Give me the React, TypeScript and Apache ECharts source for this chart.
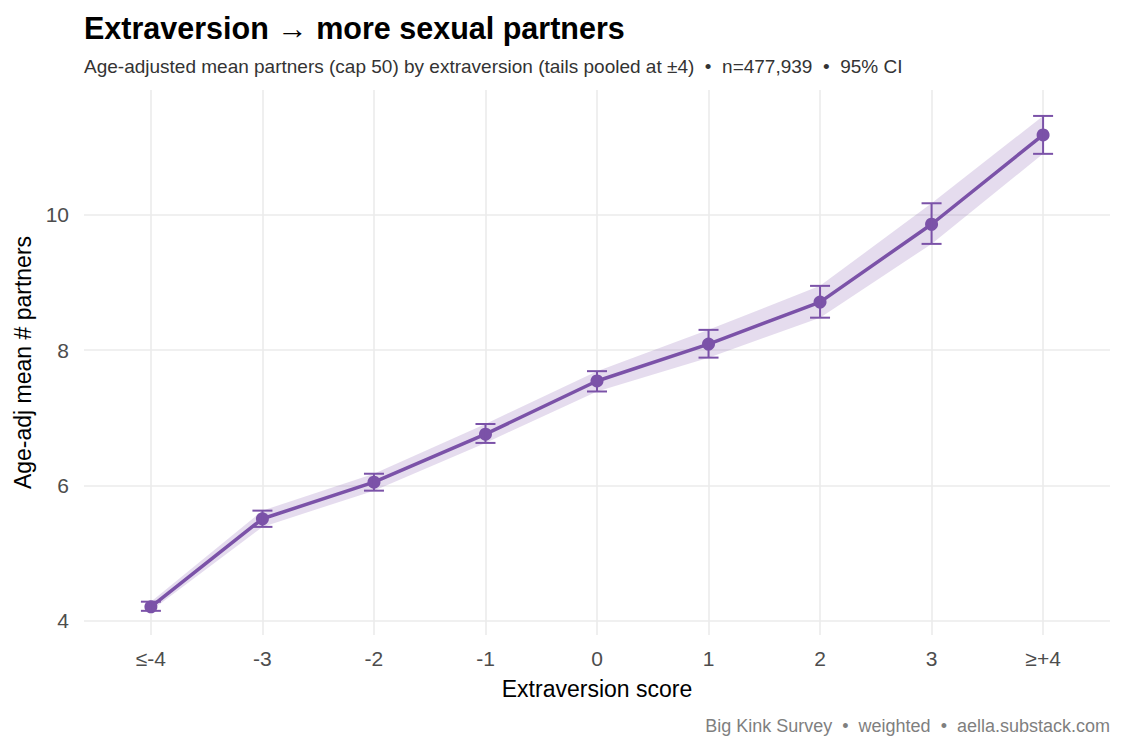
import React, { useEffect, useRef } from "react";
import * as echarts from "echarts";

// Extraversion score buckets (tails pooled at ±4)
const categories = ["≤-4", "-3", "-2", "-1", "0", "1", "2", "3", "≥+4"];
// Age-adjusted mean number of partners per bucket
const means = [4.21, 5.51, 6.05, 6.76, 7.545, 8.09, 8.71, 9.86, 11.18];
// 95% confidence interval bounds
const lower = [4.15, 5.39, 5.925, 6.63, 7.39, 7.89, 8.48, 9.57, 10.9];
const upper = [4.285, 5.63, 6.175, 6.91, 7.69, 8.3, 8.95, 10.17, 11.46];
const yTicks = [4, 6, 8, 10];

const PURPLE = "#7b52a8";
const FONT = "Liberation Sans, Arial, sans-serif";

export default function App() {
  const ref = useRef<HTMLDivElement>(null);

  useEffect(() => {
    if (!ref.current) return;
    const chart = echarts.init(ref.current, undefined, { renderer: "svg" });
    const xIdx = categories.map((_, i) => i);
    const rows = categories.map((_, i) => [i, means[i], lower[i], upper[i]]);

    chart.setOption({
      animation: false,
      backgroundColor: "#ffffff",
      textStyle: { fontFamily: FONT },
      title: [
        {
          text: "Extraversion → more sexual partners",
          left: 84,
          top: 12,
          padding: 0,
          textStyle: { fontFamily: FONT, fontSize: 30.5, fontWeight: "bold", color: "#000000" },
        },
        {
          text: "Age-adjusted mean partners (cap 50) by extraversion (tails pooled at ±4)  •  n=477,939  •  95% CI",
          left: 84,
          top: 57,
          padding: 0,
          textStyle: { fontFamily: FONT, fontSize: 19, fontWeight: "normal", color: "#333333" },
        },
        {
          text: "Big Kink Survey  •  weighted  •  aella.substack.com",
          right: 15,
          top: 717,
          padding: 0,
          textStyle: { fontFamily: FONT, fontSize: 18, fontWeight: "normal", color: "#7f7f7f" },
        },
      ],
      grid: { left: 84, right: 15, top: 90, bottom: 115 },
      xAxis: {
        type: "value",
        min: -0.6,
        max: 8.6,
        name: "Extraversion score",
        nameLocation: "middle",
        nameGap: 42,
        nameTextStyle: { fontFamily: FONT, fontSize: 23, color: "#000000" },
        axisLine: { show: false },
        axisTick: { show: false, customValues: xIdx },
        axisLabel: {
          customValues: xIdx,
          formatter: (v: number) => categories[Math.round(v)] ?? "",
          fontFamily: FONT,
          fontSize: 21,
          color: "#4d4d4d",
          margin: 13,
        },
        splitLine: { show: true, lineStyle: { color: "#ebebeb", width: 1.6 } },
      },
      yAxis: {
        type: "value",
        min: 3.793,
        max: 11.843,
        name: "Age-adj mean # partners",
        nameLocation: "middle",
        nameGap: 41,
        nameRotate: 90,
        nameTextStyle: { fontFamily: FONT, fontSize: 23, color: "#000000" },
        axisLine: { show: false },
        axisTick: { show: false, customValues: yTicks },
        axisLabel: {
          customValues: yTicks,
          fontFamily: FONT,
          fontSize: 21,
          color: "#4d4d4d",
          margin: 15,
        },
        splitLine: { show: true, lineStyle: { color: "#ebebeb", width: 1.6 } },
      },
      series: [
        {
          // confidence ribbon drawn as a single polygon
          type: "custom",
          data: rows,
          z: 1,
          silent: true,
          renderItem: (params: any, api: any) => {
            if (params.dataIndex !== 0) return null;
            const top = rows.map((r) => api.coord([r[0], r[3]]));
            const bot = rows.map((r) => api.coord([r[0], r[2]])).reverse();
            return {
              type: "polygon",
              shape: { points: top.concat(bot) },
              style: { fill: PURPLE, opacity: 0.2 },
            };
          },
        },
        {
          type: "line",
          data: rows.map((r) => [r[0], r[1]]),
          z: 3,
          symbol: "circle",
          symbolSize: 13,
          lineStyle: { color: PURPLE, width: 3.5 },
          itemStyle: { color: PURPLE },
        },
        {
          // error bars with caps
          type: "custom",
          data: rows,
          z: 4,
          silent: true,
          renderItem: (_params: any, api: any) => {
            const x = api.value(0);
            const lo = api.coord([x, api.value(2)]);
            const hi = api.coord([x, api.value(3)]);
            const half = 10;
            const style = { stroke: PURPLE, lineWidth: 2 };
            return {
              type: "group",
              children: [
                { type: "line", shape: { x1: lo[0], y1: lo[1], x2: hi[0], y2: hi[1] }, style },
                { type: "line", shape: { x1: lo[0] - half, y1: lo[1], x2: lo[0] + half, y2: lo[1] }, style },
                { type: "line", shape: { x1: hi[0] - half, y1: hi[1], x2: hi[0] + half, y2: hi[1] }, style },
              ],
            };
          },
        },
      ],
    });

    return () => chart.dispose();
  }, []);

  return (
    <div
      ref={ref}
      style={{ position: "fixed", left: 0, top: 0, width: 1125, height: 750, background: "#ffffff" }}
    />
  );
}
